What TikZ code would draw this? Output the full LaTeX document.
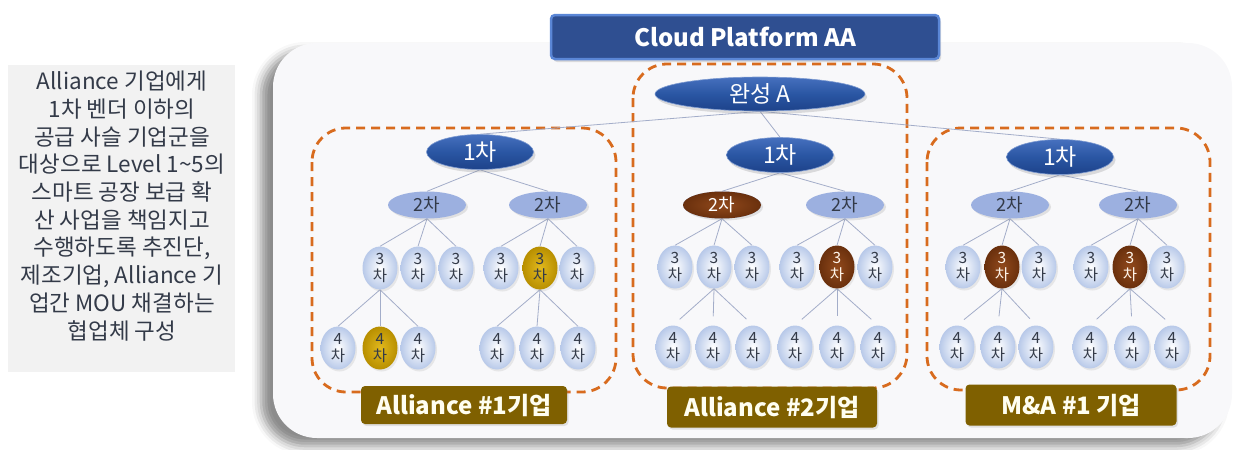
\documentclass[tikz,border=0pt]{standalone}
\usepackage{fontspec}
\setmainfont{Noto Sans CJK KR}
\usetikzlibrary{shapes.geometric,shadows,shadows.blur}

\definecolor{panelbg}{HTML}{F8F8FA}
\definecolor{notebg}{HTML}{F2F2F2}
\definecolor{titlefill}{HTML}{2F4F91}
\definecolor{titleedge}{HTML}{5A86D6}
\definecolor{navytop}{HTML}{4670BE}
\definecolor{navymid}{HTML}{2A56A3}
\definecolor{navybot}{HTML}{1D428A}
\definecolor{lightblue}{HTML}{9CB0E0}
\definecolor{ballout}{HTML}{B8C9E9}
\definecolor{goldin}{HTML}{E2B91E}
\definecolor{goldout}{HTML}{B88F00}
\definecolor{brownin}{HTML}{91491C}
\definecolor{brownout}{HTML}{6A300D}
\definecolor{olive}{HTML}{7F6000}
\definecolor{dashorange}{HTML}{D86B1E}
\definecolor{linkgray}{HTML}{A3ADC9}
\definecolor{inkdark}{HTML}{333A48}

\pgfdeclarelayer{base}
\pgfdeclarelayer{edges}
\pgfsetlayers{base,edges,main}

\tikzset{
  tier1/.style={ellipse, minimum width=107pt, minimum height=35pt, inner sep=0pt,
    top color=navytop, bottom color=navybot, middle color=navymid,
    draw=navytop!70!white, line width=0.6pt, text=white,
    font=\fontsize{23}{23}\selectfont,
    drop shadow={opacity=0.25, shadow xshift=2pt, shadow yshift=-3pt}},
  tier2/.style={ellipse, minimum width=78pt, minimum height=27pt, inner sep=0pt,
    fill=lightblue, text=inkdark, font=\fontsize{18}{18}\selectfont,
    drop shadow={opacity=0.2, shadow xshift=2pt, shadow yshift=-2pt}},
  tier2brown/.style={tier2, inner color=brownin, outer color=brownout, text=white},
  ball/.style={ellipse, minimum width=35pt, minimum height=43pt, inner sep=0pt,
    inner color=white, outer color=ballout, text=inkdark, align=center,
    font=\fontsize{15.5}{17}\selectfont,
    drop shadow={opacity=0.15, shadow xshift=1.5pt, shadow yshift=-2pt}},
  ballgold/.style={ball, inner color=goldin, outer color=goldout, text=inkdark},
  ballbrown/.style={ball, inner color=brownin, outer color=brownout, text=white!92!orange},
  link/.style={draw=linkgray, line width=0.8pt},
  groupbox/.style={draw=dashorange, line width=2.8pt, dash pattern=on 9pt off 6pt,
    rounded corners=34pt},
  tag/.style={fill=olive, rounded corners=4pt, text=white!94!yellow,
    font=\bfseries\fontsize{24}{24}\selectfont, minimum height=38pt, inner sep=0pt,
    drop shadow={opacity=0.2, shadow xshift=1.5pt, shadow yshift=-2pt}},
}

\begin{document}
\begin{tikzpicture}[x=1pt,y=-1pt]
\useasboundingbox (0,0) rectangle (1235,450);

\begin{pgfonlayer}{base}
% note panel on the left
\node[fill=notebg, minimum width=227pt, minimum height=307pt, inner sep=0pt] (notebox) at (121.5,218.5) {};
% main platform panel
\path[fill=panelbg, rounded corners=44pt,
  blur shadow={shadow xshift=-12pt, shadow yshift=-8pt, shadow blur radius=9pt, shadow opacity=45}]
  (273,43) rectangle (1232,438);
\end{pgfonlayer}

\node[align=center, text=inkdark, font=\fontsize{22.5}{27.7}\selectfont] (note) at (122,206)
  {Alliance 기업에게\\1차 벤더 이하의\\공급 사슬 기업군을\\대상으로 Level 1\textasciitilde5의\\스마트 공장 보급 확\\산 사업을 책임지고\\수행하도록 추진단,\\제조기업, Alliance 기\\업간 MOU 채결하는\\협업체 구성};

% title bar
\node[fill=titlefill, draw=titleedge, line width=2.5pt, rounded corners=4pt,
  minimum width=388pt, minimum height=44pt, inner sep=0pt, text=white,
  font=\bfseries\fontsize{24}{24}\selectfont,
  drop shadow={opacity=0.25, shadow xshift=2pt, shadow yshift=-3pt}] (title) at (745,37) {Cloud Platform AA};

% root
\node[tier1, minimum width=210pt, minimum height=34pt] (root) at (760,94) {완성 A};

% ---------- left group ----------
\node[tier1] (La) at (480,152) {1차};
\node[tier2] (Lb1) at (427,205) {2차};
\node[tier2] (Lb2) at (548,205) {2차};
\node[ball] (Lc1) at (380,268) {3\\차};
\node[ball] (Lc2) at (418,268) {3\\차};
\node[ball] (Lc3) at (456,268) {3\\차};
\node[ball] (Lc4) at (501,268) {3\\차};
\node[ballgold] (Lc5) at (540,268) {3\\차};
\node[ball] (Lc6) at (577,268) {3\\차};
\node[ball] (Ld1) at (338,348) {4\\차};
\node[ballgold] (Ld2) at (380,348) {4\\차};
\node[ball] (Ld3) at (418,348) {4\\차};
\node[ball] (Ld4) at (497,348) {4\\차};
\node[ball] (Ld5) at (537,348) {4\\차};
\node[ball] (Ld6) at (578,348) {4\\차};

% ---------- middle group ----------
\node[tier1] (Ma) at (780,155) {1차};
\node[tier2brown] (Mb1) at (722,205) {2차};
\node[tier2] (Mb2) at (845,205) {2차};
\node[ball] (Mc1) at (675,267) {3\\차};
\node[ball] (Mc2) at (714,267) {3\\차};
\node[ball] (Mc3) at (752,267) {3\\차};
\node[ball] (Mc4) at (797,267) {3\\차};
\node[ballbrown] (Mc5) at (837,267) {3\\차};
\node[ball] (Mc6) at (875,267) {3\\차};
\node[ball] (Md1) at (673,347) {4\\차};
\node[ball] (Md2) at (713,347) {4\\차};
\node[ball] (Md3) at (753,347) {4\\차};
\node[ball] (Md4) at (795,347) {4\\차};
\node[ball] (Md5) at (837,347) {4\\차};
\node[ball] (Md6) at (878,347) {4\\차};

% ---------- right group ----------
\node[tier1] (Ra) at (1060,157) {1차};
\node[tier2] (Rb1) at (1010,205) {2차};
\node[tier2] (Rb2) at (1138,205) {2차};
\node[ball] (Rc1) at (963,267) {3\\차};
\node[ballbrown] (Rc2) at (1002,267) {3\\차};
\node[ball] (Rc3) at (1039,267) {3\\차};
\node[ball] (Rc4) at (1091,267) {3\\차};
\node[ballbrown] (Rc5) at (1130,267) {3\\차};
\node[ball] (Rc6) at (1167,267) {3\\차};
\node[ball] (Rd1) at (957,347) {4\\차};
\node[ball] (Rd2) at (998,347) {4\\차};
\node[ball] (Rd3) at (1036,347) {4\\차};
\node[ball] (Rd4) at (1090,347) {4\\차};
\node[ball] (Rd5) at (1132,347) {4\\차};
\node[ball] (Rd6) at (1172,347) {4\\차};

% ---------- connectors and group outlines, under the nodes ----------
\begin{pgfonlayer}{edges}
\draw[groupbox] (312,128) rectangle (616,392);
\draw[groupbox] (633,64) rectangle (907,388);
\draw[groupbox] (927,128) rectangle (1210,390);
\draw[link] (root.south) -- (La.north);
\draw[link] (root.south) -- (Ma.north);
\draw[link] (root.south) -- (Ra.north);
\foreach \g in {L,M,R}{
  \draw[link] (\g a.south) -- (\g b1.north);
  \draw[link] (\g a.south) -- (\g b2.north);
  \foreach \k in {1,2,3} \draw[link] (\g b1.south) -- (\g c\k.north);
  \foreach \k in {4,5,6} \draw[link] (\g b2.south) -- (\g c\k.north);
}
\foreach \k in {1,2,3} \draw[link] (Lc1.south) -- (Ld\k.north);
\foreach \k in {4,5,6} \draw[link] (Lc5.south) -- (Ld\k.north);
\foreach \k in {1,2,3} \draw[link, shorten >=9pt] (Mc2.south) -- (Md\k.north);
\foreach \k in {4,5,6} \draw[link, shorten >=9pt] (Mc5.south) -- (Md\k.north);
\foreach \k in {1,2,3} \draw[link, shorten >=9pt] (Rc2.south) -- (Rd\k.north);
\foreach \k in {4,5,6} \draw[link, shorten >=9pt] (Rc5.south) -- (Rd\k.north);
\end{pgfonlayer}

% group tags
\node[tag, minimum width=206pt] (tagL) at (464,405) {Alliance \#1기업};
\node[tag, minimum width=210pt, minimum height=41pt] (tagM) at (772,407) {Alliance \#2기업};
\node[tag, minimum width=211pt, minimum height=41pt] (tagR) at (1071,405) {M\&A \#1 기업};
\end{tikzpicture}
\end{document}
